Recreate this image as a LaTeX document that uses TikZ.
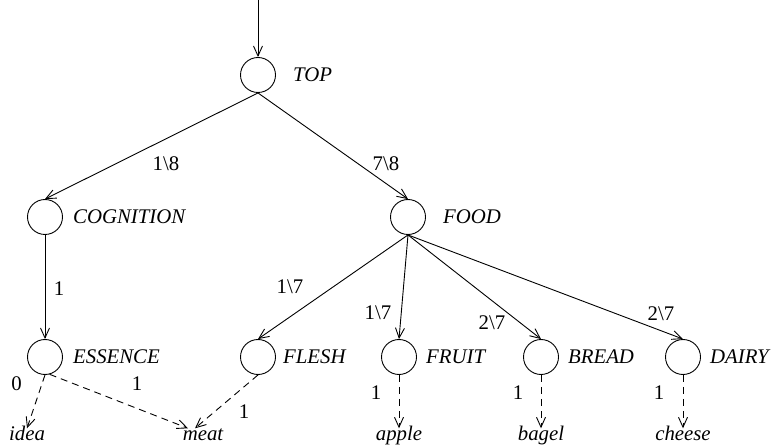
\documentclass[tikz,border=0pt]{standalone}
\usepackage{fontspec}
\setmainfont{Liberation Serif}
\usetikzlibrary{arrows.meta,calc}
\begin{document}
\begin{tikzpicture}[x=1pt,y=-1pt,
  every node/.style={font=\fontsize{20.8}{24}\selectfont},
  circ/.style={draw,circle,minimum size=35pt,inner sep=0pt,line width=0.9pt},
  nlab/.style={font=\fontsize{20.8}{24}\selectfont\itshape,inner sep=0pt},
  leaf/.style={font=\fontsize{20.8}{24}\selectfont\itshape,inner sep=4.5pt,text height=0.7em,text depth=0.25em,anchor=base},
  elab/.style={inner sep=0pt,text height=0.68em,text depth=0pt},
  link/.style={line width=0.9pt,-{Straight Barb[length=10pt,width=9pt,line width=0.9pt]}},
  dlink/.style={link,dash pattern=on 7pt off 5pt}]
\useasboundingbox (0,0) rectangle (771,446);
% tree nodes
\node[circ,label={[nlab,label distance=17pt]right:TOP}] (top) at (258,75) {};
\node[circ,label={[nlab,label distance=10pt]right:COGNITION}] (cog) at (45,217) {};
\node[circ,label={[nlab,label distance=17pt]right:FOOD}] (food) at (408,217) {};
\node[circ,label={[nlab,label distance=10pt]right:ESSENCE}] (ess) at (45,357) {};
\node[circ,label={[nlab,label distance=7pt]right:FLESH}] (flesh) at (258,357) {};
\node[circ,label={[nlab,label distance=9pt]right:FRUIT}] (fruit) at (399,357) {};
\node[circ,label={[nlab,label distance=9pt]right:BREAD}] (bread) at (541,357) {};
\node[circ,label={[nlab,label distance=9pt]right:DAIRY}] (dairy) at (683,357) {};
% leaves
\node[leaf] (idea) at (27,440) {idea};
\node[leaf] (meat) at (203,440) {meat};
\node[leaf] (apple) at (399,440) {apple};
\node[leaf] (bagel) at (541,440) {bagel};
\node[leaf] (cheese) at (683,440) {cheese};
\coordinate (in) at (258,0);
% solid connectors
\draw[link] (in) -- (top.north);
\draw[link] (top.south) -- (cog.north);
\draw[link] (top.south) -- (food.north);
\draw[link] (cog.south) -- (ess.north);
\draw[link] (food.south) -- (flesh.north);
\draw[link] (food.south) -- (fruit.north);
\draw[link] (food.south) -- (bread.north);
\draw[link] (food.south) -- (dairy.north);
% dashed connectors
\draw[dlink] (ess.south) -- (idea.north);
\draw[dlink] (ess.-75) -- ($(meat.north)+(-15,0)$);
\draw[dlink] (flesh.south) -- ($(meat.north)+(-8,0)$);
\draw[dlink] (fruit.south) -- (apple.north);
\draw[dlink] (bread.south) -- (bagel.north);
\draw[dlink] (dairy.south) -- (cheese.north);
% edge labels
\node[elab] (l1) at (166,167) {1\textbackslash 8};
\node[elab] (l2) at (386,167) {7\textbackslash 8};
\node[elab] (l3) at (59,292) {1};
\node[elab] (l4) at (290,290) {1\textbackslash 7};
\node[elab] (l5) at (378,316) {1\textbackslash 7};
\node[elab] (l6) at (492,326) {2\textbackslash 7};
\node[elab] (l7) at (661,317) {2\textbackslash 7};
\node[elab] (l8) at (16.5,387) {0};
\node[elab] (l9) at (137,387) {1};
\node[elab] (l10) at (244,415) {1};
\node[elab] (l11) at (376,396) {1};
\node[elab] (l12) at (518,396) {1};
\node[elab] (l13) at (659,396) {1};
\end{tikzpicture}
\end{document}
